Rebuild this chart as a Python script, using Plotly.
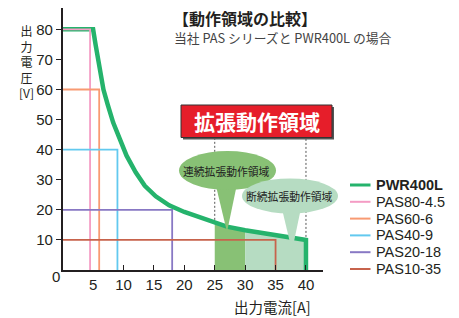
import numpy as np
import plotly.graph_objects as go

W, H = 459, 318

# ---- data ----
pwr_name = "PWR400L"
pwr_i = [0, 5, 5.4, 5.8, 6.2, 6.7, 7.4, 8.3, 9.3, 10.5, 12, 13.5, 15.3, 17.5, 20, 22, 24.5, 27, 30, 33, 37, 40, 40]
pwr_v = [80, 80, 75, 70, 65, 60, 55, 49, 44, 38, 32.5, 28, 24.5, 21.5, 19.3, 17.8, 16, 14.4, 13.2, 12.2, 10.9, 10, 0]

pas_names = ["PAS80-4.5", "PAS60-6", "PAS40-9", "PAS20-18", "PAS10-35"]
pas_vmax = [80, 60, 40, 20, 10]
pas_imax = [4.5, 6, 9, 18, 35]

region_bounds = [25, 30, 40]          # continuous: 25-30, intermittent: 30-40
region_labels = ["連続拡張動作領域", "断続拡張動作領域"]

x_tickvals = [5, 10, 15, 20, 25, 30, 35, 40]
y_tickvals = [10, 20, 30, 40, 50, 60, 70, 80]

title = "【動作領域の比較】"
subtitle = "当社 PAS シリーズと PWR400L の場合"
banner = "拡張動作領域"
xtitle = "出力電流[A]"
ytitle_chars = ["出", "力", "電", "圧", "[V]"]

# ---- styles ----
pwr_color = "#25b36c"
pas_colors = ["#f49cc4", "#f89a72", "#62c9ef", "#8878c4", "#c7634c"]
region_colors = ["#88c175", "#b6dcc2"]
axis_color = "#231f20"
JP = "Noto Sans CJK JP"
LAT = "Liberation Sans, Arial, sans-serif"


def px(x):
    return x / W


def py(y):
    return 1 - y / H


fig = go.Figure()

# shaded regions under PWR400L curve
ci = np.array(pwr_i[:-1], dtype=float)
cv = np.array(pwr_v[:-1], dtype=float)
for k in range(len(region_bounds) - 1):
    a, b = region_bounds[k], region_bounds[k + 1]
    inner = [(i, v) for i, v in zip(ci, cv) if a < i < b]
    xs = [a] + [p[0] for p in inner] + [b]
    ys = [float(np.interp(a, ci, cv))] + [p[1] for p in inner] + [float(np.interp(b, ci, cv))]
    fig.add_trace(go.Scatter(x=[a] + xs + [b], y=[0] + ys + [0], mode="lines",
                             fill="toself", fillcolor=region_colors[k],
                             line=dict(width=0), showlegend=False, hoverinfo="skip"))

# PWR400L
fig.add_trace(go.Scatter(x=pwr_i, y=pwr_v, mode="lines", name=pwr_name,
                         line=dict(color=pwr_color, width=4.5), showlegend=False))

# PAS series
for n, vm, im, c in zip(pas_names, pas_vmax, pas_imax, pas_colors):
    fig.add_trace(go.Scatter(x=[0, im, im], y=[vm, vm, 0], mode="lines", name=n,
                             line=dict(color=c, width=1.8), showlegend=False))

shapes = []
annotations = []

# dashed guides from banner to the curve at region edges
ban_bottom_v = (270 - 139) / ((270 - 8) / 87.1)
for xb in (region_bounds[0], region_bounds[-1]):
    yc = float(np.interp(xb, ci, cv)) + 1.0
    shapes.append(dict(type="line", xref="x", yref="y", x0=xb, x1=xb, y0=yc, y1=ban_bottom_v,
                       line=dict(color="#555", width=1, dash="2px,2px"), layer="above"))

# callout bubbles (paper coords)
bubbles = [
    dict(cx=227.5, cy=170.5, rx=48.5, ry=19.5, tail=[(216, 186), (237, 184), (227, 232)]),
    dict(cx=290, cy=196, rx=48, ry=17.5, tail=[(282, 209), (301, 208), (292, 251)]),
]
for k, bb in enumerate(bubbles):
    col = region_colors[k]
    t = bb["tail"]
    path = "M {} {} L {} {} L {} {} Z".format(px(t[0][0]), py(t[0][1]), px(t[1][0]), py(t[1][1]),
                                              px(t[2][0]), py(t[2][1]))
    shapes.append(dict(type="path", xref="paper", yref="paper", path=path,
                       fillcolor=col, line=dict(width=0), layer="above"))
    shapes.append(dict(type="circle", xref="paper", yref="paper",
                       x0=px(bb["cx"] - bb["rx"]), x1=px(bb["cx"] + bb["rx"]),
                       y0=py(bb["cy"] + bb["ry"]), y1=py(bb["cy"] - bb["ry"]),
                       fillcolor=col, line=dict(width=0), layer="above"))
    annotations.append(dict(xref="paper", yref="paper", x=px(bb["cx"] - 1), y=py(bb["cy"]),
                            text=region_labels[k], showarrow=False,
                            font=dict(family=JP, size=10.8, color="#222"),
                            xanchor="center", yanchor="middle"))

# red banner with shadow
shapes.append(dict(type="rect", xref="paper", yref="paper", x0=px(183), x1=px(334),
                   y0=py(139.5), y1=py(107), fillcolor="#555", line=dict(width=0), layer="above"))
shapes.append(dict(type="rect", xref="paper", yref="paper", x0=px(181), x1=px(332),
                   y0=py(137.5), y1=py(105), fillcolor="#e61e2a",
                   line=dict(color="#333", width=1), layer="above"))
annotations.append(dict(xref="paper", yref="paper", x=px(256.5), y=py(121.5), text=banner,
                        showarrow=False, xanchor="center", yanchor="middle",
                        font=dict(family=JP, size=21, color="white", weight="bold")))

# titles
annotations.append(dict(xref="paper", yref="paper", x=px(171), y=py(18), text=title,
                        showarrow=False, xanchor="left", yanchor="middle",
                        font=dict(family=JP, size=16, color="#231f20", weight="bold")))
annotations.append(dict(xref="paper", yref="paper", x=px(172), y=py(38), text=subtitle,
                        showarrow=False, xanchor="left", yanchor="middle",
                        font=dict(family=JP, size=12.8, color="#444")))

# axis titles
annotations.append(dict(xref="paper", yref="paper", x=px(272), y=0, text=xtitle,
                        showarrow=False, xanchor="center", yanchor="bottom", borderpad=0,
                        font=dict(family=JP, size=14.5, color="#231f20")))
annotations.append(dict(xref="paper", yref="paper", x=px(26), y=py(62), text="<br>".join(ytitle_chars),
                        showarrow=False, xanchor="center", yanchor="middle", align="center",
                        font=dict(family=JP, size=12, color="#231f20")))

# origin label
annotations.append(dict(xref="paper", yref="paper", x=px(55.5), y=py(276.5), text="0",
                        showarrow=False, xanchor="center", yanchor="middle",
                        font=dict(family=LAT, size=15, color="#231f20")))

# custom legend
leg_names = [pwr_name] + pas_names
leg_colors = [pwr_color] + pas_colors
for k, (n, c) in enumerate(zip(leg_names, leg_colors)):
    yy = 185 + 16.8 * k
    shapes.append(dict(type="line", xref="paper", yref="paper", x0=px(350), x1=px(370.5),
                       y0=py(yy), y1=py(yy), line=dict(color=c, width=3 if k == 0 else 2)))
    annotations.append(dict(xref="paper", yref="paper", x=px(374), y=py(yy), text=n,
                            showarrow=False, xanchor="left", yanchor="middle",
                            font=dict(family=LAT, size=14.5, color="#231f20",
                                      weight="bold" if k == 0 else "normal")))

fig.update_layout(
    width=W, height=H, autosize=False,
    margin=dict(l=0, r=0, t=0, b=0),
    paper_bgcolor="white", plot_bgcolor="rgba(0,0,0,0)",
    shapes=shapes, annotations=annotations, showlegend=False,
    xaxis=dict(domain=[px(62.7), px(323)], range=[0, 42.8], showgrid=False, zeroline=False,
               showline=True, linecolor=axis_color, linewidth=1.6,
               tickmode="array", tickvals=x_tickvals, ticks="",
               tickfont=dict(family=LAT, size=15, color="#231f20"),
               minor=dict(tickmode="array", tickvals=x_tickvals[1:], ticks="inside",
                          ticklen=5, tickwidth=1.4, tickcolor=axis_color),
               automargin=False, fixedrange=True),
    yaxis=dict(domain=[py(270), py(8)], range=[0, 87.1], showgrid=False, zeroline=False,
               showline=True, linecolor=axis_color, linewidth=1.6,
               tickmode="array", tickvals=y_tickvals, ticks="outside", ticklen=5,
               tickwidth=1.4, tickcolor=axis_color,
               tickfont=dict(family=LAT, size=15, color="#231f20"),
               automargin=False, fixedrange=True),
)

fig.write_html("out.html", config={"displayModeBar": False},
               post_script="document.body.style.margin='0';document.body.style.padding='0';")
